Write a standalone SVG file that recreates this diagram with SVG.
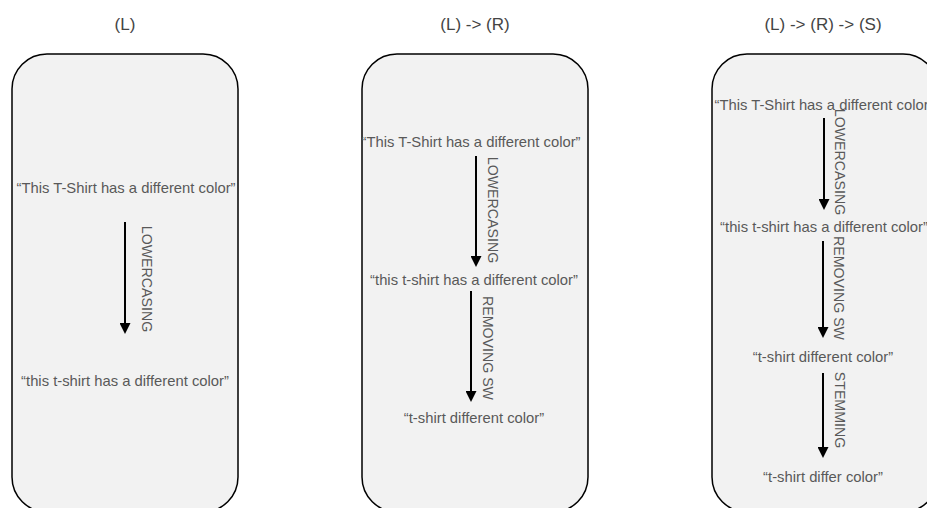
<svg xmlns="http://www.w3.org/2000/svg" width="927" height="508" viewBox="0 0 927 508">
  <style>
    .box { fill: #f2f2f2; stroke: #000; stroke-width: 1.5; }
    .title { font-family: "Liberation Sans", Arial, sans-serif; font-size: 17px; fill: #444; text-anchor: middle; }
    .txt { font-family: "Liberation Sans", Arial, sans-serif; font-size: 14.8px; fill: #595959; text-anchor: middle; dominant-baseline: central; }
    .lbl { font-family: "Liberation Sans", Arial, sans-serif; font-size: 14.2px; fill: #595959; text-anchor: middle; dominant-baseline: central; }
    .arrow { stroke: #000; stroke-width: 2; fill: none; marker-end: url(#head); }
  </style>
  <defs>
    <marker id="head" markerUnits="userSpaceOnUse" markerWidth="11" markerHeight="11" viewBox="0 0 11 11" refX="6" refY="5.5" orient="auto">
      <path d="M0,0 L11,5.5 L0,11 z" fill="#000"/>
    </marker>
  </defs>

  <g id="titles">
    <text class="title" x="125" y="30">(L)</text>
    <text class="title" x="475" y="30">(L) -&gt; (R)</text>
    <text class="title" x="823" y="30">(L) -&gt; (R) -&gt; (S)</text>
  </g>

  <g id="panel-L">
    <rect class="box" x="12" y="54" width="226" height="458" rx="35" ry="35"/>
    <text class="txt" x="126" y="188">“This T-Shirt has a different color”</text>
    <text class="txt" x="125" y="381">“this t-shirt has a different color”</text>
  </g>

  <g id="panel-LR">
    <rect class="box" x="362" y="54" width="226" height="458" rx="35" ry="35"/>
    <text class="txt" x="471" y="142">“This T-Shirt has a different color”</text>
    <text class="txt" x="474" y="280">“this t-shirt has a different color”</text>
    <text class="txt" x="474" y="418">“t-shirt different color”</text>
  </g>

  <g id="panel-LRS">
    <rect class="box" x="712" y="54" width="226" height="458" rx="35" ry="35"/>
    <text class="txt" x="824" y="105">“This T-Shirt has a different color”</text>
    <text class="txt" x="824" y="227">“this t-shirt has a different color”</text>
    <text class="txt" x="823" y="357">“t-shirt different color”</text>
    <text class="txt" x="823" y="477">“t-shirt differ color”</text>
  </g>

  <g id="connectors">
    <line class="arrow" x1="125" y1="222" x2="125" y2="329"/>
    <text class="lbl" x="147" y="279" transform="rotate(90 147 279)">LOWERCASING</text>

    <line class="arrow" x1="476" y1="156" x2="476" y2="262"/>
    <text class="lbl" x="493" y="210" transform="rotate(90 493 210)">LOWERCASING</text>
    <line class="arrow" x1="471" y1="291" x2="471" y2="397"/>
    <text class="lbl" x="488" y="348" transform="rotate(90 488 348)">REMOVING SW</text>

    <line class="arrow" x1="824" y1="118" x2="824" y2="205"/>
    <text class="lbl" x="840" y="162" transform="rotate(90 840 162)">LOWERCASING</text>
    <line class="arrow" x1="823" y1="241" x2="823" y2="333"/>
    <text class="lbl" x="839" y="288" transform="rotate(90 839 288)">REMOVING SW</text>
    <line class="arrow" x1="823" y1="373" x2="823" y2="453"/>
    <text class="lbl" x="840" y="410" transform="rotate(90 840 410)">STEMMING</text>
  </g>
</svg>
